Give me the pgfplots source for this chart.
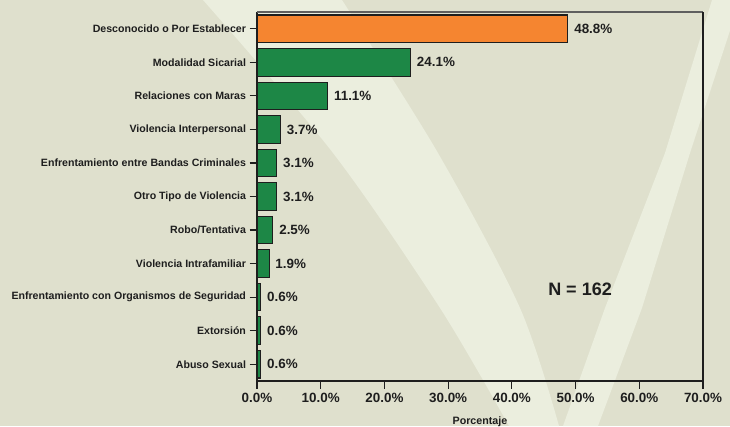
\documentclass[border=0pt]{standalone}
\usepackage{fontspec}
\setmainfont{Liberation Sans}
\usepackage{pgfplots}
\pgfplotsset{compat=1.18}

\definecolor{bgdark}{RGB}{223,224,205}
\definecolor{bglight}{RGB}{235,238,222}
\definecolor{barorange}{RGB}{245,133,48}
\definecolor{bargreen}{RGB}{29,135,70}
\definecolor{edge}{RGB}{30,30,30}
\definecolor{frametop}{RGB}{95,95,95}

\begin{document}
\begin{tikzpicture}
% page background with the two light ribbons of the "V"
\begin{scope}
  \clip (0pt,0pt) rectangle (730pt,426pt);
  \fill[bgdark] (0pt,0pt) rectangle (730pt,426pt);
  \fill[bglight] plot[smooth, tension=0.5] coordinates {(203pt,426pt) (333pt,273pt) (440pt,118pt) (509pt,0pt)}
    -- plot[smooth, tension=0.5] coordinates {(559pt,0pt) (520pt,118pt) (438pt,273pt) (342pt,426pt)} -- cycle;
  \fill[bglight] (712pt,426pt) -- (665pt,273pt) -- (605pt,118pt) -- (563pt,0pt)
    -- (598pt,0pt) -- (642pt,118pt) -- (690pt,273pt) -- (740pt,426pt) -- cycle;
\end{scope}

\begin{axis}[
  at={(257pt,45pt)}, anchor=south west,
  scale only axis, width=446pt, height=369pt,
  xbar, bar width=27.5pt, bar shift=0pt,
  xmin=0, xmax=70, ymin=-0.5, ymax=10.5, y dir=reverse,
  axis x line*=bottom, axis y line*=left,
  axis line style={draw=edge, line width=1.2pt},
  tick align=outside, major tick length=7.5pt,
  tick style={draw=edge, line width=1.2pt},
  xtick={0,10,20,30,40,50,60,70},
  xticklabels={0.0\%,10.0\%,20.0\%,30.0\%,40.0\%,50.0\%,60.0\%,70.0\%},
  ytick={0,1,2,3,4,5,6,7,8,9,10},
  yticklabels={Desconocido o Por Establecer, Modalidad Sicarial, Relaciones con Maras,
    Violencia Interpersonal, Enfrentamiento entre Bandas Criminales, Otro Tipo de Violencia,
    Robo/Tentativa, Violencia Intrafamiliar, Enfrentamiento con Organismos de Seguridad,
    Extorsión, Abuso Sexual},
  xticklabel style={font=\fontsize{13.4}{15}\selectfont\bfseries, text=edge, yshift=-1.5pt},
  yticklabel style={font=\fontsize{10.6}{12}\selectfont\bfseries, text=edge},
  xlabel={Porcentaje},
  xlabel style={font=\fontsize{10.7}{12}\selectfont\bfseries, text=edge, yshift=-6.5pt},
  /pgf/number format/assume math mode=true,
  point meta=x,
  nodes near coords={\pgfmathprintnumber[fixed,fixed zerofill,precision=1]{\pgfplotspointmeta}\%},
  nodes near coords style={font=\fontsize{13.4}{15}\selectfont\bfseries, text=edge, anchor=west, xshift=2.5pt},
  clip=false,
]
\addplot[fill=barorange, draw=edge, line width=1.1pt] coordinates {(48.8,0)};
\addplot[fill=bargreen, draw=edge, line width=1.1pt] coordinates {
  (24.1,1) (11.1,2) (3.7,3) (3.1,4) (3.1,5) (2.5,6) (1.9,7) (0.6,8) (0.6,9) (0.6,10)};

% upper and right frame lines
\draw[frametop, line width=1.4pt] (axis description cs:0,1) -- (axis description cs:1,1);
\draw[edge, line width=1.2pt] (axis description cs:1,0) -- (axis description cs:1,1);

\node[font=\fontsize{18}{20}\selectfont\bfseries, text=edge] at (axis cs:50.7,7.76) {N = 162};
\end{axis}

\pgfresetboundingbox
\path (0pt,0pt) rectangle (730pt,426pt);
\end{tikzpicture}
\end{document}
